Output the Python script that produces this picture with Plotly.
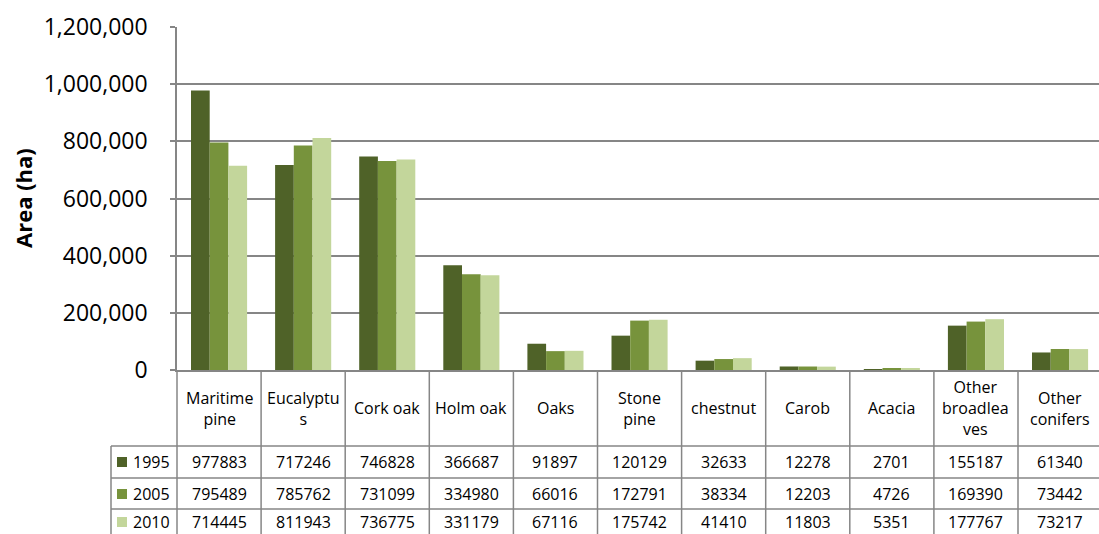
import plotly.graph_objects as go

categories = ["Maritime pine", "Eucalyptus", "Cork oak", "Holm oak", "Oaks",
              "Stone pine", "chestnut", "Carob", "Acacia",
              "Other broadleaves", "Other conifers"]
category_labels = ["Maritime<br>pine", "Eucalyptu<br>s", "Cork oak", "Holm oak", "Oaks",
                   "Stone<br>pine", "chestnut", "Carob", "Acacia",
                   "Other<br>broadlea<br>ves", "Other<br>conifers"]
years = ["1995", "2005", "2010"]
v1995 = [977883, 717246, 746828, 366687, 91897, 120129, 32633, 12278, 2701, 155187, 61340]
v2005 = [795489, 785762, 731099, 334980, 66016, 172791, 38334, 12203, 4726, 169390, 73442]
v2010 = [714445, 811943, 736775, 331179, 67116, 175742, 41410, 11803, 5351, 177767, 73217]
series = [v1995, v2005, v2010]
colors = ["#4F6228", "#77933C", "#C3D69B"]
y_ticks = [0, 200000, 400000, 600000, 800000, 1000000, 1200000]

W, H = 1099, 534
L, T, B_PX = 177, 27, 370          # plot area pixels
PLOT_H = B_PX - T
PLOT_W = W - L
GRID = "#868686"
FONT = "'Open Sans', Lato, Arial, sans-serif"

def py(p):
    return (B_PX - p) / PLOT_H

def px(p):
    return (p - L) / PLOT_W

fig = go.Figure()
for yr, vals, col in zip(years, series, colors):
    fig.add_trace(go.Bar(x=list(range(len(categories))), y=vals, name=yr,
                         marker=dict(color=col, line=dict(width=0)),
                         hovertext=categories))

# column width in category units -> 84.1 px
col_px = 84.1
x_hi = -0.5 + PLOT_W / col_px

row_edges = [446, 478, 509, 540]
row_centers = [462, 494, 522]

shapes = []
for e in row_edges:
    shapes.append(dict(type="line", xref="paper", yref="paper", x0=px(111), x1=1.0,
                       y0=py(e), y1=py(e), line=dict(color=GRID, width=1.5)))
shapes.append(dict(type="line", xref="paper", yref="paper", x0=0, x1=0,
                   y0=0, y1=py(545), line=dict(color=GRID, width=1.5)))
shapes.append(dict(type="line", xref="paper", yref="paper", x0=px(111), x1=px(111),
                   y0=py(446), y1=py(545), line=dict(color=GRID, width=1.5)))
for i in range(len(categories) - 1):
    shapes.append(dict(type="line", xref="x", yref="paper", x0=i + 0.5, x1=i + 0.5,
                       y0=0, y1=py(545), line=dict(color=GRID, width=1.5)))
for r, col in enumerate(colors):
    c = row_centers[r]
    shapes.append(dict(type="rect", xref="paper", yref="paper",
                       x0=px(117), x1=px(127), y0=py(c - 5), y1=py(c + 5),
                       fillcolor=col, line=dict(width=0)))

annotations = []
for i, lab in enumerate(category_labels):
    annotations.append(dict(x=i, y=py(408), xref="x", yref="paper", text=lab,
                            showarrow=False, font=dict(size=16, color="#000000", family=FONT),
                            xanchor="center", yanchor="middle"))
for r, vals in enumerate(series):
    for i, v in enumerate(vals):
        annotations.append(dict(x=i, y=py(row_centers[r]), xref="x", yref="paper",
                                text=str(v), showarrow=False,
                                font=dict(size=16, color="#000000", family=FONT),
                                xanchor="center", yanchor="middle"))
    annotations.append(dict(x=px(131), y=py(row_centers[r]), xref="paper", yref="paper",
                            text=years[r], showarrow=False,
                            font=dict(size=16, color="#000000", family=FONT),
                            xanchor="left", yanchor="middle"))
annotations.append(dict(x=px(23), y=py(198), xref="paper", yref="paper",
                        text="<b>Area (ha)</b>", textangle=-90, showarrow=False,
                        font=dict(size=22, color="#000000", family=FONT),
                        xanchor="center", yanchor="middle"))

fig.update_layout(
    width=W, height=H,
    margin=dict(l=L, r=0, t=T, b=H - B_PX, pad=0),
    paper_bgcolor="white", plot_bgcolor="white",
    barmode="group", bargap=0.333, bargroupgap=0,
    showlegend=False,
    font=dict(family=FONT, color="#000000"),
    xaxis=dict(range=[-0.5, x_hi], showticklabels=False, ticks="",
               showgrid=False, zeroline=False, showline=True,
               linecolor=GRID, linewidth=1.5),
    yaxis=dict(range=[0, 1200000], tickvals=y_ticks, tickformat=",",
               ticks="outside", ticklen=5, tickcolor=GRID, tickwidth=1.5,
               showgrid=True, gridcolor=GRID, gridwidth=1.5,
               zeroline=False, showline=True, linecolor=GRID, linewidth=1.5,
               tickfont=dict(size=23, color="#000000", family=FONT),
               ticklabelstandoff=18),
    shapes=shapes,
    annotations=annotations,
)

fig.write_html("out.html")
